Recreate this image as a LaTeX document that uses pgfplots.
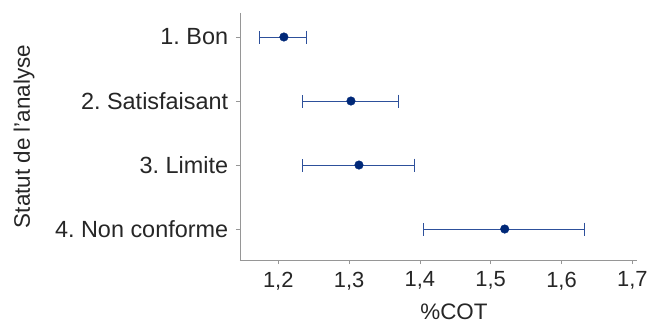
\documentclass[border=0pt]{standalone}
\usepackage{fontspec}
\setmainfont{Liberation Sans}
\usepackage{pgfplots}
\pgfplotsset{compat=1.18}
\usepackage{pgfplotstable}
\definecolor{ptcol}{RGB}{0,40,120}
\definecolor{errcol}{RGB}{45,80,155}
\definecolor{axcol}{RGB}{150,150,150}
\pgfplotstableread{
y x em ep
1 1.208 0.034 0.0325
2 1.3027 0.0682 0.0668
3 1.314 0.0795 0.0781
4 1.5198 0.114 0.1124
}\data
\begin{document}
\frenchspacing
\fontsize{23}{27}\selectfont
\begin{tikzpicture}
\begin{axis}[name=ax,
  scale only axis, width=397bp, height=247bp,
  xmin=1.146, xmax=1.7066,
  ymin=0.625, ymax=4.484, y dir=reverse,
  axis x line*=bottom, axis y line*=left,
  axis line style={axcol,-, line width=0.8pt},
  xtick={1.2,1.3,1.4,1.5,1.6,1.7},
  ytick={1,2,3,4},
  yticklabels={1. Bon,2. Satisfaisant,3. Limite,4. Non conforme},
  tick align=outside, major tick length=4bp,
  tick style={axcol, line width=0.6pt},
  /pgf/number format/assume math mode=true,
  /pgf/number format/use comma,
  /pgf/number format/fixed,
  /pgf/number format/precision=1,
  /pgf/number format/fixed zerofill,
  xticklabel style={font=\fontsize{22}{26}\selectfont, text=black!85},
  yticklabel style={font=\fontsize{23.5}{27}\selectfont\frenchspacing, text=black!85},
  label style={font=\fontsize{22.5}{26}\selectfont, text=black!85},
  xlabel={\%COT},
  xlabel style={at={(axis description cs:0.539,0)}, anchor=base, yshift=-59bp},
  ylabel={Statut de l'analyse},
  ylabel style={at={(axis description cs:-0.544,0.5)}, anchor=center},
  clip=false,
]
\addplot[only marks, mark=*, mark size=4.3bp, mark options={fill=ptcol, draw=ptcol},
  error bars/.cd, x dir=both, x explicit,
  error bar style={errcol, line width=1pt},
  error mark options={errcol, line width=1pt, mark size=6.5bp, rotate=90}]
  table[x=x, y=y, x error plus=ep, x error minus=em] {\data};
\end{axis}
\pgfresetboundingbox
\path (ax.south west) ++(-240bp,-65bp) rectangle ([xshift=14bp,yshift=13bp]ax.north east);
\end{tikzpicture}
\end{document}
